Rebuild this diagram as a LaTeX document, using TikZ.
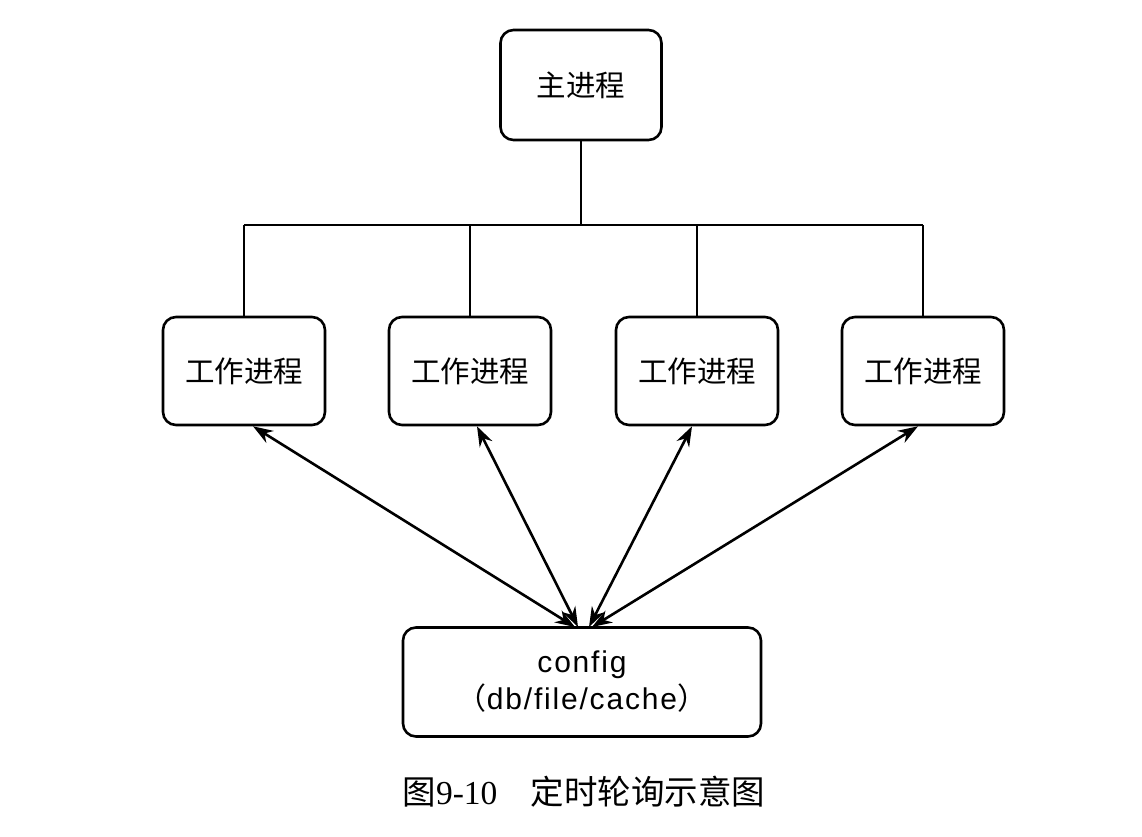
\documentclass[tikz,border=0pt]{standalone}
\usepackage{fontspec}
\setmainfont{Liberation Serif}
\setsansfont{Liberation Sans}
\newfontfamily\cjk{Noto Sans CJK SC}
\newfontfamily\cfgfont[LetterSpace=6]{Liberation Sans}
\usetikzlibrary{arrows.meta}
\begin{document}
\begin{tikzpicture}[x=1pt,y=-1pt,
  box/.style={draw,line width=2.6pt,rounded corners=13pt,inner sep=0pt},
  wire/.style={line width=2.6pt},
  link/.style={line width=2.6pt,{Stealth[length=20pt,width=14pt]}-{Stealth[length=20pt,width=14pt]}},
  lbl/.style={font=\cjk\fontsize{29.5}{32}\selectfont}]
\useasboundingbox (0,0) rectangle (1142,836);
% master process
\node[box,minimum width=161pt,minimum height=110pt,lbl] (main) at (581,85) {主进程};
% worker processes
\node[box,minimum width=162pt,minimum height=108pt,lbl] (w1) at (244,371) {工作进程};
\node[box,minimum width=162pt,minimum height=108pt,lbl] (w2) at (470,371) {工作进程};
\node[box,minimum width=162pt,minimum height=108pt,lbl] (w3) at (697,371) {工作进程};
\node[box,minimum width=162pt,minimum height=108pt,lbl] (w4) at (923,371) {工作进程};
% shared config store
\node[box,minimum width=358pt,minimum height=109pt,align=center,
      font=\cfgfont\fontsize{30}{37}\selectfont] (cfg) at (582,682)
  {config\\
   {\cjk（}db/file/cache{\cjk）}};
% bus from master to workers
\coordinate (bus) at (581,225);
\draw[wire] (main.south) -- (bus);
\draw[wire] (w1.north |- bus) -- (w4.north |- bus);
\foreach \w in {w1,w2,w3,w4} \draw[wire] (\w.north |- bus) -- (\w.north);
% polling links
\coordinate (c1) at (575,627);
\coordinate (c2) at (578,627);
\coordinate (c3) at (589,627);
\coordinate (c4) at (592,627);
\draw[link] ([xshift=9pt]w1.south) -- (c1);
\draw[link] ([xshift=7pt]w2.south) -- (c2);
\draw[link] ([xshift=-5pt]w3.south) -- (c3);
\draw[link] ([xshift=-5pt]w4.south) -- (c4);
% caption
\node[font=\fontsize{33.5}{36}\selectfont,inner sep=0pt] (cap) at (584,792)
  {{\cjk 图}9-10\hspace{1em}{\cjk 定时轮询示意图}};
\end{tikzpicture}
\end{document}
